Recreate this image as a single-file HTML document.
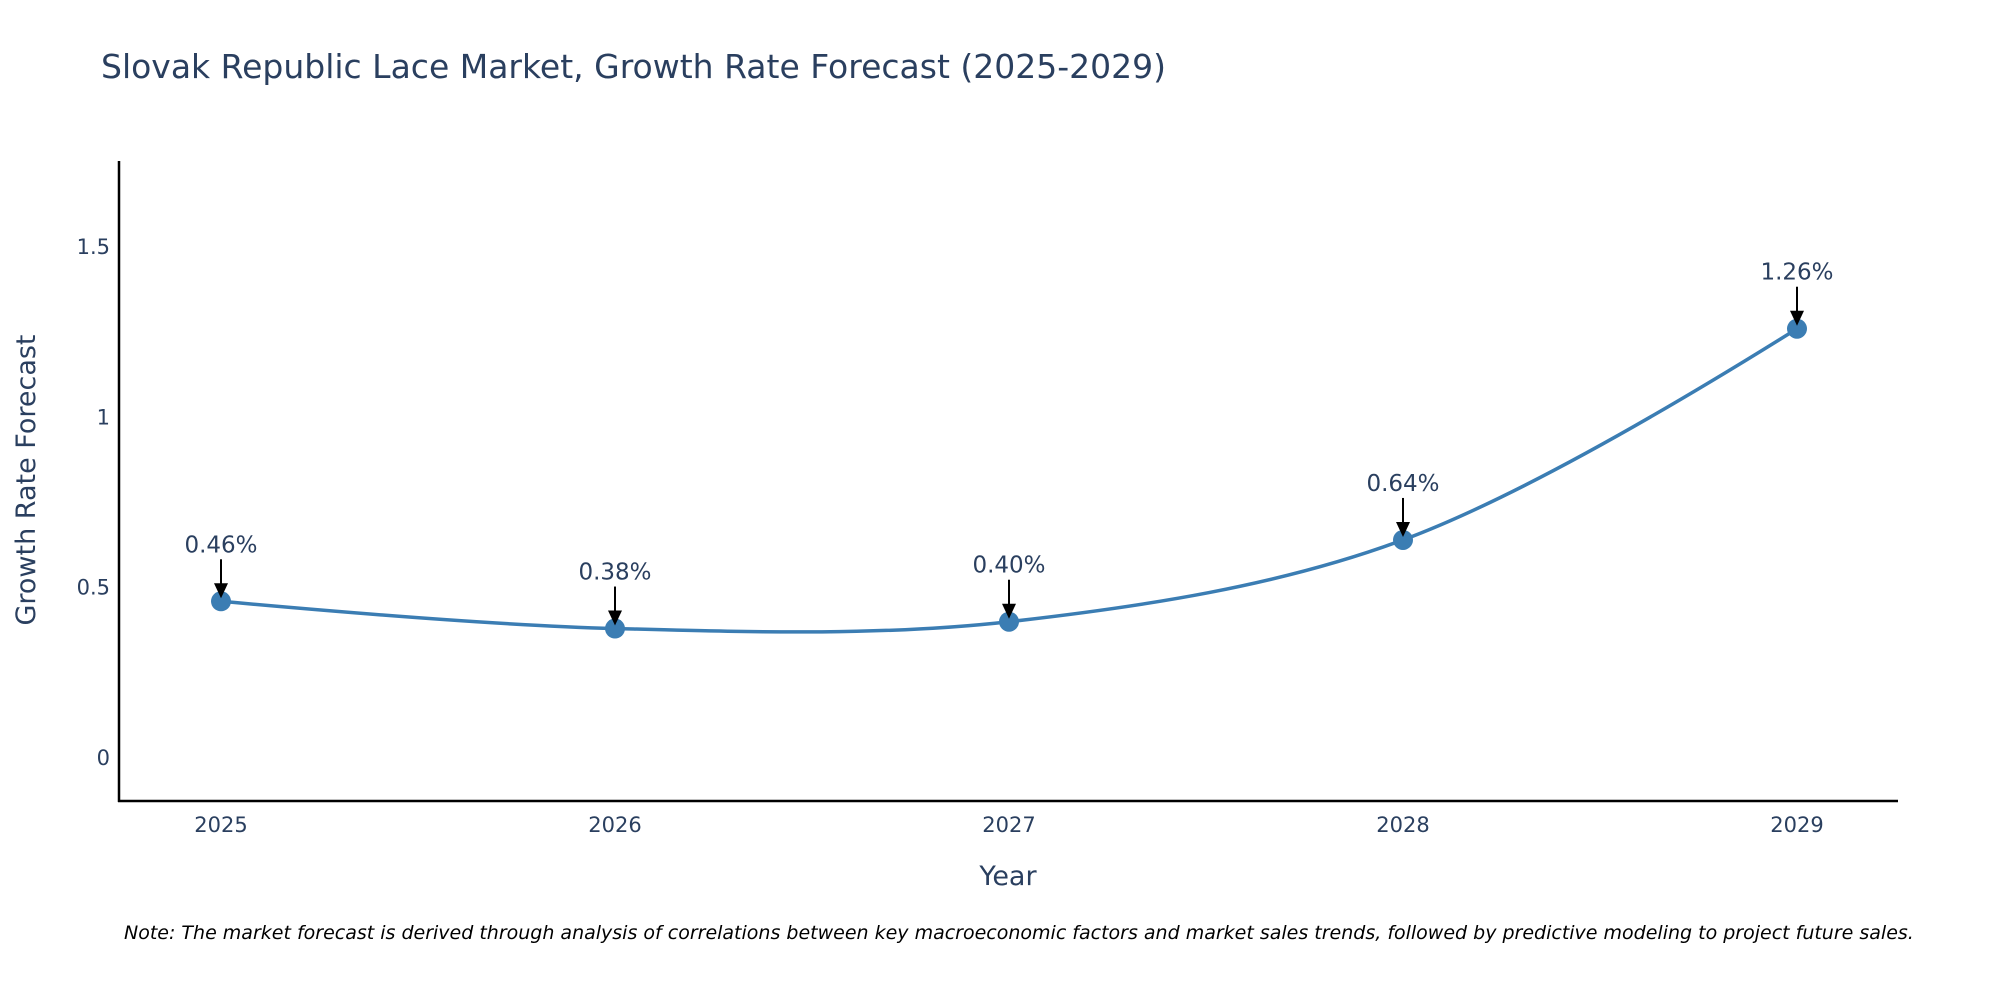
<!DOCTYPE html>
<html><head><meta charset="utf-8"><style>
html,body{margin:0;padding:0;background:#fff;overflow:hidden;}
svg{display:block;font-family:"DejaVu Sans","Liberation Sans",sans-serif;}
</style></head><body>
<svg id="chart" width="2000" height="1000" viewBox="0 0 2000 1000">
<text x="101" y="78" font-size="33" fill="#2a3f5f">Slovak Republic Lace Market, Growth Rate Forecast (2025-2029)</text>
<g id="yticks"></g>
<g id="xticks"></g>
<line x1="119" y1="161" x2="119" y2="802" stroke="#000" stroke-width="2.5"/>
<line x1="118" y1="801" x2="1898" y2="801" stroke="#000" stroke-width="2.5"/>
<g id="series"></g>
<g id="annots"></g>
<text x="1008" y="885" font-size="27" fill="#2a3f5f" text-anchor="middle">Year</text>
<text transform="translate(35,480) rotate(-90)" font-size="27" fill="#2a3f5f" text-anchor="middle">Growth Rate Forecast</text>
<text x="124" y="939" font-size="19" font-style="italic" fill="#000">Note: The market forecast is derived through analysis of correlations between key macroeconomic factors and market sales trends, followed by predictive modeling to project future sales.</text>
</svg>
<script>
const years = [2025, 2026, 2027, 2028, 2029];
const growth = [0.46, 0.38, 0.40, 0.64, 1.26];
const labels = ["0.46%", "0.38%", "0.40%", "0.64%", "1.26%"];
const yTickVals = [0, 0.5, 1, 1.5];
const yTickLabels = ["0", "0.5", "1", "1.5"];

const NS = "http://www.w3.org/2000/svg";
const x0 = 221, xStep = 394;
function xs(i){ return x0 + i * xStep; }
function ys(v){ return 758 - v * 340.7; }
function mk(tag, attrs, parent){ const e = document.createElementNS(NS, tag); for (const k in attrs) e.setAttribute(k, attrs[k]); parent.appendChild(e); return e; }

const yt = document.getElementById('yticks');
yTickVals.forEach((v, i) => {
  const t = mk('text', {x: 110, y: ys(v) + 7, 'font-size': 21, fill: '#2a3f5f', 'text-anchor': 'end'}, yt);
  
  
  t.textContent = yTickLabels[i];
});
const xt = document.getElementById('xticks');
years.forEach((yr, i) => {
  const t = mk('text', {x: xs(i), y: 832, 'font-size': 21, fill: '#2a3f5f', 'text-anchor': 'middle'}, xt);
  
  
  t.textContent = String(yr);
});

const pts = growth.map((v, i) => [xs(i), ys(v)]);
const sm = 1;
const ctrl = [];
for (let i = 1; i < pts.length - 1; i++) {
  const p0 = pts[i-1], p1 = pts[i], p2 = pts[i+1];
  const d1 = Math.hypot(p1[0]-p0[0], p1[1]-p0[1]), d2 = Math.hypot(p2[0]-p1[0], p2[1]-p1[1]);
  const f = sm / 3, dx = p2[0]-p0[0], dy = p2[1]-p0[1];
  const fa = f * d1 / (d1 + d2), fb = f * d2 / (d1 + d2);
  ctrl.push([[p1[0]-dx*fa, p1[1]-dy*fa], [p1[0]+dx*fb, p1[1]+dy*fb]]);
}
let d = `M${pts[0][0]},${pts[0][1]} Q${ctrl[0][0][0]},${ctrl[0][0][1]} ${pts[1][0]},${pts[1][1]}`;
for (let i = 1; i < pts.length - 2; i++) {
  d += ` C${ctrl[i-1][1][0]},${ctrl[i-1][1][1]} ${ctrl[i][0][0]},${ctrl[i][0][1]} ${pts[i+1][0]},${pts[i+1][1]}`;
}
const n = pts.length;
d += ` Q${ctrl[n-3][1][0]},${ctrl[n-3][1][1]} ${pts[n-1][0]},${pts[n-1][1]}`;
const sg = document.getElementById('series');
const line = mk('path', {d: d, fill: 'none', stroke: '#3b7db3', 'stroke-width': 3.5}, sg);


pts.forEach(p => {
  const c = mk('circle', {cx: p[0], cy: p[1], r: 10, fill: '#3b7db3'}, sg);
  
  
});

const ag = document.getElementById('annots');
pts.forEach((p, i) => {
  const l = mk('line', {x1: p[0], y1: p[1]-42, x2: p[0], y2: p[1]-14, stroke: '#000', 'stroke-width': 2}, ag);
  
  
  const h = mk('polygon', {points: `${p[0]-7},${p[1]-18} ${p[0]+7},${p[1]-18} ${p[0]},${p[1]-3}`, fill: '#000'}, ag);
  
  
  const t = mk('text', {x: p[0], y: p[1]-49, 'font-size': 23, fill: '#2a3f5f', 'text-anchor': 'middle'}, ag);
  
  
  t.textContent = labels[i];
});
</script>
</body></html>
